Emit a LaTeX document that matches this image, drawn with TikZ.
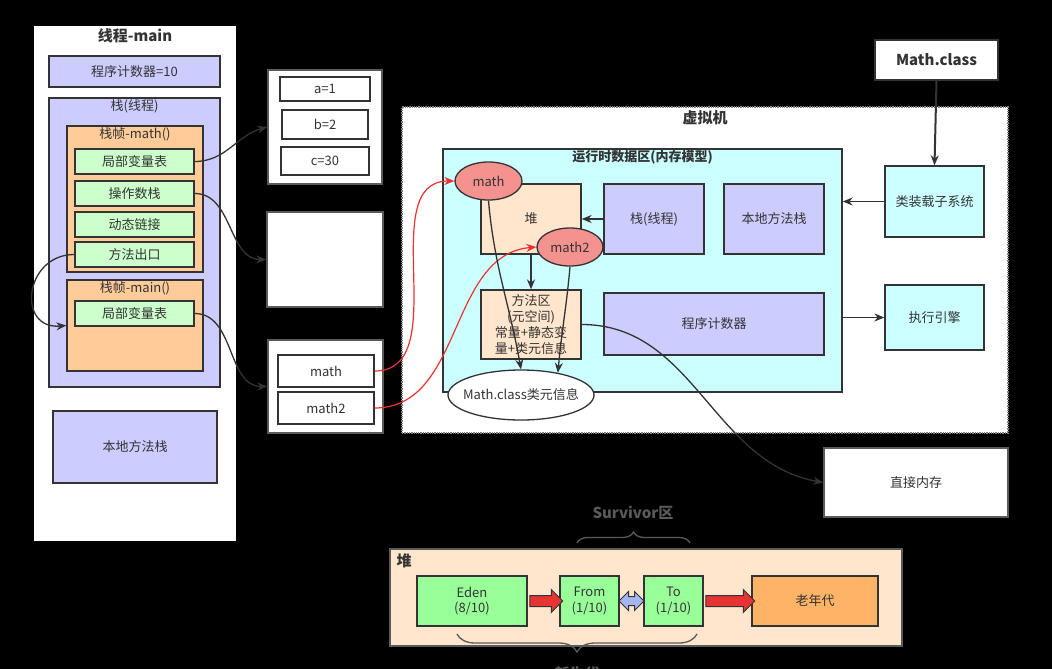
\documentclass[tikz,border=0pt]{standalone}
\usepackage{fontspec}
\setmainfont{Noto Sans CJK SC}
\usetikzlibrary{positioning,calc,shapes.geometric,shapes.arrows,arrows.meta,decorations.pathreplacing}
\definecolor{line}{HTML}{333333}
\definecolor{txt}{HTML}{333333}
\definecolor{lav}{HTML}{CCCCFF}
\definecolor{frame}{HTML}{FFCC99}
\definecolor{mint}{HTML}{CCFFCC}
\definecolor{aqua}{HTML}{CCFFFF}
\definecolor{peach}{HTML}{FFE6CC}
\definecolor{salmon}{HTML}{F4928F}
\definecolor{young}{HTML}{99FF99}
\definecolor{old}{HTML}{FFB366}
\definecolor{fatred}{HTML}{E63333}
\definecolor{fatblue}{HTML}{A6B4F2}
\definecolor{refred}{HTML}{F03030}
\definecolor{note}{HTML}{5A5A5A}

\begin{document}
\begin{tikzpicture}[x=1pt,y=-1pt,
			font=\fontsize{13}{15.5}\selectfont,
			box/.style={rectangle,draw=line,line width=1.3pt,text=txt,inner sep=0pt,align=center},
			obj/.style={ellipse,draw=line,line width=1.3pt,fill=salmon,text=txt,inner sep=0pt},
			lbl/.style={text=txt,inner sep=1pt},
			conn/.style={draw=line,line width=1.3pt,-{Stealth[length=10pt,width=8pt]}},
			refconn/.style={draw=refred,line width=1.2pt,-{Stealth[length=10pt,width=8pt]}},
			fatarrow/.style={single arrow,draw=line,line width=1pt,fill=fatred,inner sep=5pt,
				single arrow head extend=6pt,single arrow head indent=0pt,minimum width=22pt},
			fatboth/.style={double arrow,draw=line,line width=1pt,fill=fatblue,inner sep=4pt,
				double arrow head extend=5pt,minimum width=18pt},
			bracket/.style={draw=note,line width=1.3pt,decorate},
			]
			\fill[black] (0,0) rectangle (1052,669);
			\useasboundingbox (0,0) rectangle (1052,669);

			\node [box,fill=white,draw=white,minimum width=200pt,minimum height=513pt] (thread) at (135,283.5) {};
			\node [lbl,below=1pt of thread.north,font=\fontsize{15}{18}\selectfont\bfseries] (threadlbl) {线程-main};
			\node [box,fill=lav,minimum width=171pt,minimum height=31pt] (pcten) at (134.5,71.5) {程序计数器=10};
			\node [box,fill=lav,minimum width=171pt,minimum height=289pt] (stackT) at (134.5,242.5) {};
			\node [lbl,below=1pt of stackT.north] (stacklbl) {栈(线程)};
			\node [box,fill=frame,minimum width=136pt,minimum height=146pt] (fmath) at (135,199) {};
			\node [lbl,below=1pt of fmath.north] (fmathlbl) {栈帧-math()};
			\node [box,fill=mint,minimum width=119pt,minimum height=25pt] (lvmath) at (134.5,161.5) {局部变量表};
			\node [box,fill=mint,minimum width=119pt,minimum height=25pt] (opstack) at (134.5,193.5) {操作数栈};
			\node [box,fill=mint,minimum width=119pt,minimum height=25pt] (dynlink) at (134.5,224.5) {动态链接};
			\node [box,fill=mint,minimum width=119pt,minimum height=25pt] (mexit) at (134.5,254.5) {方法出口};
			\node [box,fill=frame,minimum width=136pt,minimum height=91pt] (fmain) at (135,325.5) {};
			\node [lbl,below=1pt of fmain.north] (fmainlbl) {栈帧-main()};
			\node [box,fill=mint,minimum width=119pt,minimum height=25pt] (lvmain) at (134.5,313.5) {局部变量表};
			\node [box,fill=lav,minimum width=164pt,minimum height=72pt] (nstackT) at (135,447) {本地方法栈};

			\node [box,fill=white,draw=note,minimum width=114pt,minimum height=114pt] (abc) at (325,127) {};
			\node [box,fill=white,minimum width=90pt,minimum height=24pt] (va) at (325,89) {a=1};
			\node [box,fill=white,minimum width=86pt,minimum height=29pt] (vb) at (325,124.5) {b=2};
			\node [box,fill=white,minimum width=88pt,minimum height=28pt] (vc) at (325,161) {c=30};
			\node [box,fill=white,draw=note,minimum width=116pt,minimum height=95pt] (opbox) at (325,259.5) {};
			\node [box,fill=white,draw=note,minimum width=115pt,minimum height=93pt] (refbox) at (325.5,386.5) {};
			\node [box,fill=white,minimum width=96pt,minimum height=32pt] (mathvar) at (326,371) {math};
			\node [box,fill=white,minimum width=96pt,minimum height=32pt] (mathvarb) at (326,408) {math2};

			\node [box,fill=white,draw=gray,densely dotted,minimum width=606pt,minimum height=326pt] (vm) at (705,270) {};
			\node [lbl,below=3pt of vm.north,font=\fontsize{15}{18}\selectfont\bfseries] (vmlbl) {虚拟机};
			\node [box,fill=aqua,minimum width=399pt,minimum height=243pt] (rda) at (642.5,270.5) {};
			\node [lbl,below=1pt of rda.north,font=\fontsize{13}{15.5}\selectfont\bfseries] (rdalbl) {运行时数据区(内存模型)};
			\node [box,fill=peach,minimum width=100pt,minimum height=70pt] (heap) at (531,219) {堆};
			\node [box,fill=lav,minimum width=100pt,minimum height=70pt] (jstack) at (654,219) {栈(线程)};
			\node [box,fill=lav,minimum width=100pt,minimum height=70pt] (jnstack) at (774,219) {本地方法栈};
			\node [box,fill=peach,minimum width=100pt,minimum height=69pt,font=\fontsize{13}{16}\selectfont] (marea) at (531,324.5) {方法区\\(元空间)\\常量+静态变\\量+类元信息};
			\node [box,fill=lav,minimum width=220pt,minimum height=62pt] (jpc) at (714,324) {程序计数器};
			\node [obj,minimum width=67pt,minimum height=38pt] (mathobj) at (488.5,181) {math};
			\node [obj,minimum width=66pt,minimum height=38pt] (mathobjb) at (570,247) {math2};
			\node [obj,fill=white,inner xsep=-7pt,minimum width=146pt,minimum height=50pt] (classinfo) at (521,395) {Math.class类元信息};

			\node [box,fill=white,minimum width=123pt,minimum height=40pt,font=\fontsize{15}{18}\selectfont\bfseries] (mathclass) at (936.5,60) {Math.class};
			\node [box,fill=aqua,minimum width=99pt,minimum height=71pt] (loader) at (934.5,201.5) {类装载子系统};
			\node [box,fill=aqua,minimum width=99pt,minimum height=65pt] (engine) at (934.5,317.5) {执行引擎};
			\node [box,fill=white,draw=note,minimum width=184pt,minimum height=69pt] (direct) at (916,482.5) {直接内存};

			\node [box,fill=peach,draw=note,minimum width=512pt,minimum height=97pt] (heapgc) at (646,597.5) {};
			\node [lbl,below right=4pt and 6pt of heapgc.north west,font=\fontsize{15}{18}\selectfont\bfseries] (heapgclbl) {堆};
			\node [box,fill=young,minimum width=110pt,minimum height=50pt] (eden) at (472,601) {Eden\\(8/10)};
			\node [box,fill=young,minimum width=59pt,minimum height=50pt] (from) at (589.5,601) {From\\(1/10)};
			\node [box,fill=young,minimum width=59pt,minimum height=50pt] (to) at (673.5,601) {To\\(1/10)};
			\node [box,fill=old,minimum width=126pt,minimum height=50pt] (oldgen) at (815,601) {老年代};
			\node [fatarrow,minimum height=33pt] (edenfrom) at ($(eden.east)!0.5!(from.west)$) {};
			\node [fatboth,minimum height=25pt] (fromto) at ($(from.east)!0.5!(to.west)$) {};
			\node [fatarrow,minimum height=49pt] (toold) at ($(to.east)!0.5!(oldgen.west)$) {};

			\coordinate (survl) at (577,543);
			\coordinate (survr) at (690,543);
			\draw [bracket,decoration={brace,amplitude=11pt}] (survl) -- (survr);
			\node [text=note,font=\fontsize{15}{18}\selectfont\bfseries] (survlbl) at (633,513) {Survivor区};
			\coordinate (younl) at (457,634);
			\coordinate (younr) at (697,634);
			\draw [bracket,decoration={brace,amplitude=18pt}] (younr) -- (younl);
			\node [text=note,font=\fontsize{15}{18}\selectfont\bfseries] (younlbl) at (577,674) {新生代};

			\path [conn] (lvmath.east) to[out=0,in=195] (abc.west);
			\path [conn] (opstack.east) to[out=0,in=180] (opbox.west);
			\path [conn] (mexit.west) to[out=180,in=185,looseness=1.8] (fmain.west);
			\path [conn] (lvmain.east) to[out=0,in=180] (refbox.west);
			\path [refconn] (mathvar.east) to[out=0,in=180] (mathobj.west);
			\path [refconn] (mathvarb.east) to[out=0,in=185] (mathobjb.west);
			\path [conn] (mathobj.south) to[out=-85,in=100] (classinfo.north);
			\path [conn] (mathobjb.south) to[out=-95,in=85] (classinfo.31);
			\path [conn] (heap.south) -- (marea.north);
			\path [conn] (jstack.west) -- (heap.east);
			\path [conn,line width=2pt] (mathclass.south) -- (loader.north);
			\path [conn] (loader.west) -- (loader.west -| rda.east);
			\path [conn] (engine.west -| rda.east) -- (engine.west);
			\path [conn] (marea.east) to[out=0,in=170] (direct.west);
		\end{tikzpicture}
\end{document}
